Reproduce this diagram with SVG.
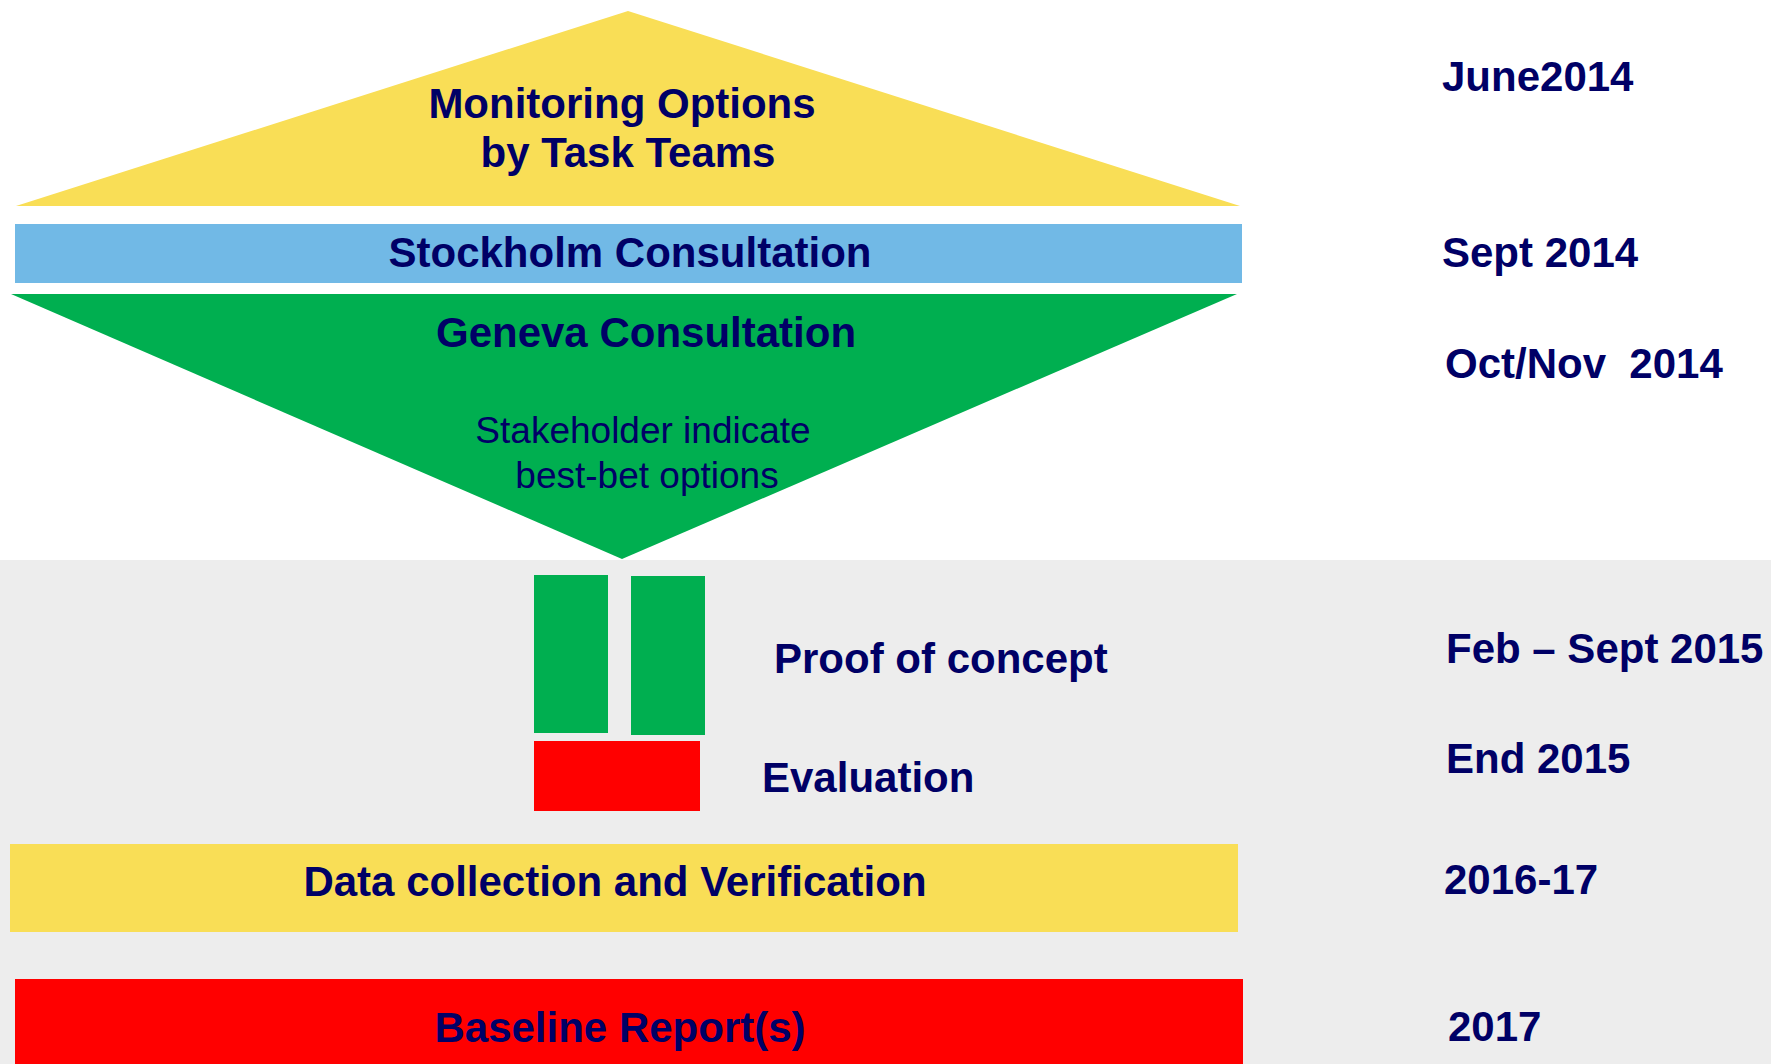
<svg xmlns="http://www.w3.org/2000/svg" width="1771" height="1064" viewBox="0 0 1771 1064">
<style>
text{font-family:"Liberation Sans",Arial,sans-serif;fill:#000066}
.b{font-weight:bold;font-size:42px}
.r{font-size:37px}
.m{text-anchor:middle}
</style>
<rect x="0" y="0" width="1771" height="1064" fill="#ffffff"/>
<rect id="lower-background" x="0" y="560" width="1771" height="504" fill="#EDEDED"/>
<g id="monitoring-options">
<polygon points="628,11 1240,206 16,206" fill="#F9DE56"/>
<text class="b m" x="622" y="118">Monitoring Options</text>
<text class="b m" x="628" y="167">by Task Teams</text>
</g>
<g id="stockholm">
<rect x="15" y="224" width="1227" height="59" fill="#71B9E6"/>
<text class="b m" x="630" y="267">Stockholm Consultation</text>
</g>
<g id="geneva">
<polygon points="11,294 1237,294 622,559" fill="#00AF50"/>
<text class="b m" x="646" y="347">Geneva Consultation</text>
<text class="r m" x="643" y="443">Stakeholder indicate</text>
<text class="r m" x="647" y="488">best-bet options</text>
</g>
<g id="proof-of-concept">
<rect x="534" y="575" width="74" height="158" fill="#00AF50"/>
<rect x="631" y="576" width="74" height="159" fill="#00AF50"/>
<text class="b" x="774" y="673">Proof of concept</text>
</g>
<g id="evaluation">
<rect x="534" y="741" width="166" height="70" fill="#FF0000"/>
<text class="b" x="762" y="792">Evaluation</text>
</g>
<g id="data-collection">
<rect x="10" y="844" width="1228" height="88" fill="#F9DE56"/>
<text class="b m" x="615" y="896">Data collection and Verification</text>
</g>
<g id="baseline-report">
<rect x="15" y="979" width="1228" height="85" fill="#FF0000"/>
<text class="b m" x="620" y="1042">Baseline Report(s)</text>
</g>
<g id="dates">
<text class="b" x="1442" y="91">June2014</text>
<text class="b" x="1442" y="267">Sept 2014</text>
<text class="b" x="1445" y="378" xml:space="preserve">Oct/Nov  2014</text>
<text class="b" x="1446" y="663">Feb – Sept 2015</text>
<text class="b" x="1446" y="773">End 2015</text>
<text class="b" x="1444" y="894">2016-17</text>
<text class="b" x="1448" y="1041">2017</text>
</g>
<g id="connectors"></g>
</svg>
